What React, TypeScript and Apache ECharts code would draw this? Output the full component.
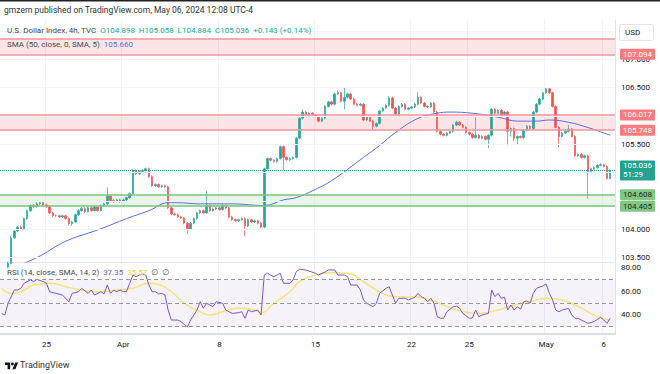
import React, { useEffect, useRef } from 'react';
import * as echarts from 'echarts';

const FONT = 'Roboto, "Noto Sans", "DejaVu Sans", sans-serif';

const barCount = 192;
const tickLabels = ['25', 'Apr', '8', '15', '22', '25', 'May', '6'];
const tickBars = [14, 38, 68, 98, 128, 146, 170, 188];

const opens = [103.27,103.30,103.33,103.40,103.85,103.97,104.04,104.01,104.19,104.33,
104.42,104.40,104.45,104.47,104.43,104.40,104.29,104.24,104.24,104.22,
104.24,104.19,104.10,104.13,104.26,104.33,104.37,104.31,104.38,104.33,
104.40,104.33,104.42,104.45,104.59,104.51,104.49,104.52,104.49,104.52,
104.56,104.63,105.04,104.98,105.02,105.04,105.07,104.93,104.77,104.79,
104.75,104.77,104.75,104.38,104.27,104.26,104.22,104.20,104.11,104.01,
104.11,104.19,104.29,104.33,104.29,104.42,104.33,104.36,104.38,104.35,
104.42,104.38,104.22,104.17,104.15,104.17,104.19,104.06,104.17,104.13,
104.15,104.11,104.04,105.07,105.25,105.22,105.20,105.25,105.46,105.27,
105.23,105.25,105.27,105.61,105.96,106.07,106.03,106.05,106.02,106.00,
105.91,105.96,106.17,106.25,106.21,106.39,106.41,106.26,106.33,106.39,
106.30,106.21,106.19,106.21,105.93,105.98,105.91,105.82,105.87,106.09,
106.14,106.19,106.32,106.14,106.03,106.17,106.21,106.12,106.14,106.16,
106.21,106.33,106.23,106.17,106.16,106.23,106.07,105.73,105.68,105.66,
105.70,105.73,105.84,105.89,105.84,105.80,105.71,105.68,105.62,105.66,
105.61,105.64,105.59,105.66,106.12,106.05,106.10,106.02,106.07,105.73,
105.78,105.61,105.64,105.62,105.75,105.82,105.78,106.07,106.21,106.30,
106.41,106.48,106.41,106.17,105.80,105.64,105.70,105.73,105.77,105.64,
105.30,105.32,105.27,105.30,105.02,105.07,105.09,105.13,105.14,105.11,
104.898];

const closes = [103.30,103.33,103.40,103.85,103.97,104.04,104.01,104.19,104.33,104.42,
104.40,104.45,104.47,104.43,104.40,104.29,104.24,104.24,104.22,104.24,
104.19,104.10,104.13,104.26,104.33,104.37,104.31,104.38,104.33,104.40,
104.33,104.42,104.45,104.59,104.51,104.49,104.52,104.49,104.52,104.56,
104.63,105.04,104.98,105.02,105.04,105.07,104.93,104.77,104.79,104.75,
104.77,104.75,104.38,104.27,104.26,104.22,104.20,104.11,104.01,104.11,
104.19,104.29,104.33,104.29,104.42,104.33,104.36,104.38,104.35,104.42,
104.38,104.22,104.17,104.15,104.17,104.19,104.06,104.17,104.13,104.15,
104.11,104.04,105.07,105.25,105.22,105.20,105.25,105.46,105.27,105.23,
105.25,105.27,105.61,105.96,106.07,106.03,106.05,106.02,106.00,105.91,
105.96,106.17,106.25,106.21,106.39,106.41,106.26,106.33,106.39,106.30,
106.21,106.19,106.21,105.93,105.98,105.91,105.82,105.87,106.09,106.14,
106.19,106.32,106.14,106.03,106.17,106.21,106.12,106.14,106.16,106.21,
106.33,106.23,106.17,106.16,106.23,106.07,105.73,105.68,105.66,105.70,
105.73,105.84,105.89,105.84,105.80,105.71,105.68,105.62,105.66,105.61,
105.64,105.59,105.66,106.12,106.05,106.10,106.02,106.07,105.73,105.78,
105.61,105.64,105.62,105.75,105.82,105.78,106.07,106.21,106.30,106.41,
106.48,106.41,106.17,105.80,105.64,105.70,105.73,105.77,105.64,105.30,
105.32,105.27,105.30,105.02,105.07,105.09,105.13,105.14,105.11,104.898,
105.036];

const lows = [103.24,103.28,103.31,103.38,103.83,103.95,103.98,104.00,104.17,104.31,
104.37,104.38,104.43,104.41,104.38,104.27,104.21,104.22,104.20,104.20,
104.17,104.07,104.06,104.12,104.24,104.31,104.29,104.30,104.31,104.32,
104.31,104.32,104.40,104.43,104.49,104.47,104.48,104.47,104.48,104.50,
104.54,104.61,104.96,104.96,105.00,105.02,104.91,104.75,104.75,104.73,
104.73,104.73,104.36,104.25,104.24,104.20,104.18,104.09,103.92,103.99,
104.09,104.17,104.27,104.27,104.27,104.31,104.31,104.34,104.33,104.33,
104.36,104.20,104.15,104.13,104.13,104.15,103.88,104.04,104.11,104.11,
104.09,104.02,104.02,105.05,105.20,105.18,105.18,105.23,105.05,105.21,
105.21,105.23,105.25,105.59,105.94,106.01,106.01,106.00,105.98,105.89,
105.89,105.94,106.15,106.19,106.19,106.37,106.24,106.12,106.31,106.28,
106.19,106.17,106.17,105.91,105.91,105.89,105.77,105.80,105.85,106.07,
106.12,106.17,106.12,106.01,106.01,106.15,106.10,106.10,106.12,106.14,
106.19,106.21,106.15,106.14,106.14,106.05,105.71,105.66,105.64,105.64,
105.68,105.71,105.82,105.82,105.78,105.69,105.66,105.60,105.60,105.59,
105.59,105.57,105.43,105.64,106.03,106.03,106.00,106.00,105.48,105.64,
105.56,105.50,105.60,105.60,105.73,105.76,105.76,106.05,106.19,106.28,
106.39,106.39,106.15,105.78,105.45,105.62,105.68,105.71,105.62,105.28,
105.28,105.25,105.25,104.54,105.00,105.05,105.07,105.11,105.09,104.88,
104.884];

const highs = [103.33,103.36,103.43,103.88,104.00,104.06,104.07,104.21,104.35,104.44,
104.45,104.48,104.50,104.49,104.46,104.42,104.31,104.26,104.26,104.26,
104.26,104.21,104.15,104.28,104.36,104.40,104.39,104.40,104.40,104.42,
104.42,104.44,104.47,104.74,104.61,104.54,104.54,104.54,104.54,104.58,
104.65,105.06,105.06,105.04,105.06,105.09,105.09,104.95,104.81,104.81,
104.79,104.79,104.77,104.40,104.29,104.28,104.24,104.22,104.13,104.13,
104.21,104.31,104.35,104.35,104.68,104.44,104.38,104.40,104.40,104.44,
104.44,104.40,104.24,104.19,104.19,104.21,104.21,104.19,104.19,104.17,
104.17,104.13,105.09,105.27,105.27,105.24,105.27,105.48,105.48,105.29,
105.27,105.29,105.63,105.98,106.12,106.09,106.07,106.07,106.04,106.02,
105.98,106.19,106.27,106.27,106.41,106.45,106.43,106.51,106.41,106.41,
106.32,106.23,106.23,106.23,106.00,106.00,105.93,105.89,106.11,106.16,
106.21,106.35,106.34,106.16,106.19,106.23,106.23,106.16,106.18,106.23,
106.42,106.35,106.25,106.19,106.25,106.25,106.09,105.75,105.70,105.72,
105.75,105.86,105.92,105.91,105.86,105.82,105.73,105.70,105.98,105.68,
105.66,105.66,105.68,106.14,106.14,106.12,106.12,106.09,106.09,105.80,
105.80,105.66,105.66,105.77,105.84,105.84,106.09,106.23,106.32,106.43,
106.51,106.50,106.43,106.19,105.82,105.72,105.75,105.84,105.79,105.66,
105.34,105.35,105.32,105.32,105.09,105.11,105.15,105.17,105.16,105.13,
105.058];

const smaPoints = [[3,103.30],[7,103.40],[12,103.53],[20,103.79],[31,104.01],[39,104.19],[46,104.33],[52,104.47],[55,104.47],[62,104.45],[72,104.45],[82,104.42],[88,104.52],[92,104.56],[97,104.68],[103,104.86],[113,105.27],[118,105.48],[123,105.71],[130,105.96],[136,106.05],[140,106.07],[147,106.05],[155,105.98],[161,105.91],[167,105.91],[171,105.93],[177,105.89],[184,105.78],[190,105.66]];

const rsiPoints = [[0,41.4],[1,40],[2,50],[4,61.3],[5,61.3],[6,62.7],[7,67],[9,69.8],[10,68.4],[11,70.3],[13,68.4],[14,67],[15,59.8],[17,58.4],[19,57],[21,51.3],[22,58.4],[24,59.8],[25,62.7],[27,58.4],[28,61.3],[29,57],[31,59.8],[32,58],[33,65.5],[34,58.4],[35,61.3],[36,59.8],[37,61.3],[38,59.8],[39,60],[40,67],[41,74],[42,72.6],[43,74],[44,74.9],[45,74],[46,65.5],[47,59.8],[48,59.8],[49,58],[50,58.4],[51,57],[52,44.2],[53,35.7],[55,35.7],[56,34.3],[57,32],[58,30],[59,35.7],[61,44.2],[62,51.3],[63,45.7],[64,50],[66,47.1],[67,51.3],[69,50],[70,44.2],[72,41.4],[74,42],[75,42.8],[76,37.2],[77,44.2],[78,42.8],[80,44.2],[81,40],[82,74],[83,75.5],[85,72.6],[86,74],[87,75.5],[88,67],[90,67],[91,69.8],[92,76.9],[93,78.9],[95,78.3],[98,75.5],[99,74],[100,75.5],[101,76.5],[102,78.3],[104,78.3],[105,74],[107,74],[108,72.6],[109,65.5],[111,65.5],[112,61.3],[113,52.8],[114,50],[116,47.1],[117,50],[118,58.4],[120,62.7],[121,64.1],[122,57],[123,50],[124,54.2],[126,54.2],[127,52.8],[129,55],[130,58.4],[131,55.6],[132,54.2],[133,51.3],[134,54.2],[135,50],[136,38.6],[137,37.2],[138,37.2],[139,42.8],[141,47.1],[142,47.5],[143,45.7],[144,41.4],[146,37.2],[147,37.5],[148,44.2],[149,38.6],[150,40],[152,41.4],[153,61.3],[154,55.6],[155,58.4],[156,54.2],[157,55],[158,44.2],[159,48.5],[160,44.2],[161,47.1],[162,45],[163,51.3],[164,52],[165,50],[166,58.4],[167,62.7],[169,64.7],[170,66.4],[171,58.4],[172,53],[173,44.2],[174,42.8],[175,44.2],[177,45.7],[178,40],[179,37.2],[180,37.2],[181,35.7],[183,32.9],[184,33.5],[185,34.5],[187,38],[188,35.7],[189,32.9],[190,37.35]];

const rsiSmaPoints = [[0,62.7],[3,58.4],[6,59.8],[10,65.5],[15,67],[20,64.1],[25,61.3],[31,59.8],[36,61.3],[41,62.7],[46,67],[49,66],[53,59.8],[57,50],[62,42.8],[65,40],[69,42.8],[74,45.7],[79,44.2],[81,42],[85,50],[90,59.8],[93,68.4],[98,74],[103,76],[108,75.5],[113,68.4],[118,59.8],[123,55.6],[128,55.6],[134,52.8],[139,47.1],[144,42.8],[149,41.4],[155,44.2],[160,48.5],[165,51.3],[170,54.2],[175,52.8],[181,45.7],[186,38.6],[190,35.57]];

// visible price-axis labels (the others sit behind the coloured level boxes)
const priceTicks = [103.5, 104, 105.5, 106.5, 107];
const priceGrid = [103.5, 104, 104.5, 105, 105.5, 106, 106.5, 107, 107.5];
const rsiTicks = [40, 60, 80];
const rsiLevels = [70, 50, 30];
const rsiBand = [30, 70];
const resistanceZones = [[105.748, 106.017], [107.094, 107.37]];
const resistanceLabels = [105.748, 106.017, 107.094];
const supportZone = [104.405, 104.608];
const lastClose = 105.036;
const countdown = '51:29';
const smaLast = '105.660';
const rsiLast = '37.35';
const rsiSmaLast = '35.57';

const categories = Array.from({ length: barCount }, (_, i) => String(i));
const isTick = (i: number) => tickBars.indexOf(i) >= 0;
const tickText = (i: number) => { const k = tickBars.indexOf(i); return k >= 0 ? tickLabels[k] : ''; };

const upColor = '#26a69a';
const downColor = '#ef5350';
const redLine = '#f4959b';
const redFill = 'rgba(242,54,69,0.13)';
const greenLine = '#7cc47f';
const greenFill = 'rgba(76,175,80,0.13)';

const boxLabel = (bg: string, fg: string, text: string) => ({
  show: true, position: 'end', distance: 5, formatter: text,
  backgroundColor: bg, color: fg, padding: [1, 3, 1, 3], fontSize: 8,
  fontFamily: FONT, borderRadius: 1, lineHeight: 9,
});

export default function App() {
  const ref = useRef<HTMLDivElement>(null);
  useEffect(() => {
    if (!ref.current) return;
    const chart = echarts.init(ref.current, undefined, { renderer: 'svg' });
    echarts.graphic.registerShape('tvlogo', echarts.graphic.extendPath(
      'M14 22H7V11H0V4h14v18z M28 22h-8l7.5-18h8L28 22z M24 8a4 4 0 1 1-8 0a4 4 0 1 1 8 0z', {}) as any);

    const candleData = opens.map((o, i) => [o, closes[i], lows[i], highs[i]]);

    const markLines: any[] = [];
    resistanceZones.forEach(([a, b]) => {
      [a, b].forEach((v) => {
        const labeled = resistanceLabels.indexOf(v) >= 0;
        markLines.push({ yAxis: v, lineStyle: { color: redLine, width: 1.5, type: 'solid' },
          label: labeled ? boxLabel('#f77c80', '#ffffff', v.toFixed(3)) : { show: false } });
      });
    });
    supportZone.forEach((v) => {
      markLines.push({ yAxis: v, lineStyle: { color: greenLine, width: 1.5, type: 'solid' },
        label: boxLabel('#81c784', '#1e2a1e', v.toFixed(3)) });
    });
    markLines.push({ yAxis: lastClose, lineStyle: { color: upColor, width: 1, type: 'dotted' },
      label: boxLabel('#22a28f', '#ffffff', lastClose.toFixed(3) + '\n' + countdown) });

    const option: any = {
      animation: false,
      backgroundColor: '#ffffff',
      textStyle: { fontFamily: FONT },
      grid: [
        { left: 0, top: 20, width: 615, height: 242 },
        { left: 0, top: 262, width: 615, height: 72 },
      ],
      xAxis: [
        { type: 'category', gridIndex: 0, data: categories, boundaryGap: true,
          axisLabel: { show: false }, axisTick: { show: false },
          axisLine: { show: true, lineStyle: { color: '#e0e3eb', width: 1 } },
          splitLine: { show: true, interval: (i: number) => isTick(i), lineStyle: { color: '#f0f3fa' } } },
        { type: 'category', gridIndex: 1, data: categories, boundaryGap: true,
          axisTick: { show: false },
          axisLine: { show: true, lineStyle: { color: '#d1d4dc', width: 1.5 } },
          axisLabel: { show: true, interval: (i: number) => isTick(i), formatter: (_v: string, i: number) => tickText(i),
            fontSize: 8, color: '#131722', margin: 6, fontFamily: FONT },
          splitLine: { show: true, interval: (i: number) => isTick(i), lineStyle: { color: '#f0f3fa' } } },
      ],
      yAxis: [
        { type: 'value', gridIndex: 0, position: 'right', min: 103.424, max: 107.695, scale: true,
          axisLine: { show: true, lineStyle: { color: '#e0e3eb' } }, axisTick: { show: false },
          splitLine: { show: false },
          axisLabel: { customValues: priceTicks, formatter: (v: number) => v.toFixed(3), fontSize: 8,
            color: '#131722', margin: 6, fontFamily: FONT } },
        { type: 'value', gridIndex: 1, position: 'right', min: 23.83, max: 85.1,
          axisLine: { show: true, lineStyle: { color: '#e0e3eb' } }, axisTick: { show: false },
          splitLine: { show: false },
          axisLabel: { customValues: rsiTicks, formatter: (v: number) => v.toFixed(2), fontSize: 8,
            color: '#131722', margin: 6, fontFamily: FONT } },
      ],
      series: [
        { type: 'line', xAxisIndex: 0, yAxisIndex: 0, data: [], silent: true, z: 1,
          markLine: { silent: true, symbol: ['none', 'none'], label: { show: false },
            lineStyle: { color: '#f0f3fa', width: 1, type: 'solid' },
            data: priceGrid.map((v) => ({ yAxis: v })) },
          markArea: { silent: true, data: [
            ...resistanceZones.map(([a, b]) => [{ yAxis: a, itemStyle: { color: redFill } }, { yAxis: b }]),
            [{ yAxis: supportZone[0], itemStyle: { color: greenFill } }, { yAxis: supportZone[1] }],
          ] } },
        { type: 'candlestick', xAxisIndex: 0, yAxisIndex: 0, data: candleData, barWidth: 2, z: 3, clip: true,
          itemStyle: { color: upColor, color0: downColor, borderColor: upColor, borderColor0: downColor, borderWidth: 0.7 },
          markLine: { silent: true, symbol: ['none', 'none'], data: markLines } },
        { type: 'line', xAxisIndex: 0, yAxisIndex: 0, data: smaPoints, smooth: 0.4, showSymbol: false, z: 4,
          silent: true, lineStyle: { color: '#5b6ee1', width: 1 } },
        { type: 'line', xAxisIndex: 1, yAxisIndex: 1, data: rsiSmaPoints, smooth: 0.5, showSymbol: false, z: 3,
          silent: true, lineStyle: { color: '#f2e47a', width: 1.5 },
          markArea: { silent: true, data: [[{ yAxis: rsiBand[0], itemStyle: { color: 'rgba(126,87,194,0.08)' } }, { yAxis: rsiBand[1] }]] },
          markLine: { silent: true, symbol: ['none', 'none'], label: { show: false },
            lineStyle: { color: '#9598a1', width: 1, type: [4, 3] },
            data: rsiLevels.map((v) => ({ yAxis: v })) } },
        { type: 'line', xAxisIndex: 1, yAxisIndex: 1, data: rsiPoints, showSymbol: false, z: 4,
          silent: true, lineStyle: { color: '#7e57c2', width: 1 } },
      ],
      graphic: [
        { type: 'rect', shape: { x: 0, y: 0, width: 660, height: 1.5 }, style: { fill: '#222' }, silent: true },
        { type: 'text', x: 4, y: 5, silent: true, style: { text: 'gmzern published on TradingView.com, May 06, 2024 12:08 UTC-4',
          fill: '#333', fontSize: 8.5, fontFamily: FONT } },
        { type: 'text', x: 7, y: 26, silent: true, z: 10, style: {
          text: '{t|U.S. Dollar Index, 4h, TVC}  {v|O104.898}  {v|H105.058}  {v|L104.884}  {v|C105.036}  {v|+0.143 (+0.14%)}',
          fontSize: 8, fontFamily: FONT,
          rich: { t: { fill: '#4a4a4a', fontSize: 8, fontFamily: FONT }, v: { fill: '#22ab94', fontSize: 8, fontFamily: FONT } } } },
        { type: 'text', x: 7, y: 40, silent: true, z: 10, style: {
          text: '{t|SMA (50, close, 0, SMA, 5)}  {b|' + smaLast + '}',
          fontSize: 8, fontFamily: FONT,
          rich: { t: { fill: '#4a4a4a', fontSize: 8, fontFamily: FONT }, b: { fill: '#5b6ee1', fontSize: 8, fontFamily: FONT } } } },
        { type: 'text', x: 7, y: 268, silent: true, z: 10, style: {
          text: '{t|RSI (14, close, SMA, 14, 2)}  {p|' + rsiLast + '}  {y|' + rsiSmaLast + '}  {t|∅  ∅}',
          fontSize: 8, fontFamily: FONT,
          rich: { t: { fill: '#4a4a4a', fontSize: 8, fontFamily: FONT }, p: { fill: '#7e57c2', fontSize: 8, fontFamily: FONT },
            y: { fill: '#e6d34f', fontSize: 8, fontFamily: FONT } } } },
        { type: 'rect', shape: { x: 619.5, y: 24.5, width: 34, height: 16, r: 2 }, style: { fill: '#fff', stroke: '#e0e3eb', lineWidth: 1 }, z: 10, silent: true },
        { type: 'text', x: 625, y: 28.5, z: 11, silent: true, style: { text: 'USD', fill: '#131722', fontSize: 8, fontFamily: FONT } },
        { type: 'tvlogo', x: 5, y: 361, scaleX: 0.37, scaleY: 0.37, style: { fill: '#131722' }, silent: true },
        { type: 'text', x: 20, y: 360, silent: true, style: { text: 'TradingView', fill: '#333', fontSize: 9, fontFamily: FONT } },
      ],
    };
    chart.setOption(option);
    return () => chart.dispose();
  }, []);
  return <div ref={ref} style={{ position: 'fixed', left: 0, top: 0, width: 660, height: 374, background: '#fff' }} />;
}
